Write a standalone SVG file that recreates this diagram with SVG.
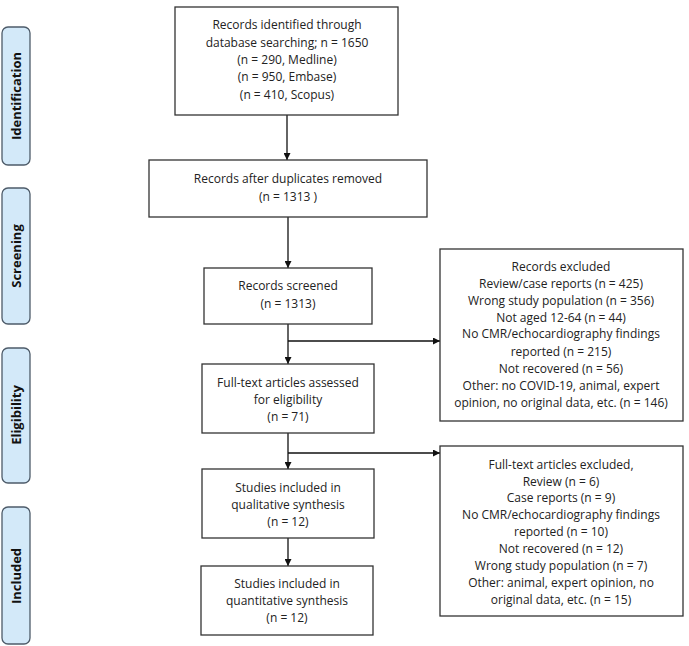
<svg xmlns="http://www.w3.org/2000/svg" width="689" height="646" viewBox="0 0 689 646">
<style>
.box{fill:#fff;stroke:#333;stroke-width:1.3}
.side{fill:#d3e9f9;stroke:#4d5b69;stroke-width:1.3}
.t{font-family:"Open Sans","Liberation Sans",sans-serif;font-size:12px;fill:#222;text-anchor:middle}
.s{font-family:"Open Sans","Liberation Sans",sans-serif;font-size:13px;font-weight:bold;fill:#111;text-anchor:middle}
.c{stroke:#111;stroke-width:1.3;fill:none}
</style>
<defs>
<marker id="ah" viewBox="0 0 10 10" refX="10" refY="5" markerWidth="7" markerHeight="7" orient="auto" markerUnits="userSpaceOnUse">
<path d="M0,0 L10,5 L0,10 z" fill="#111"/>
</marker>
</defs>
<rect width="689" height="646" fill="#fff"/>
<g id="side-identification"><rect class="side" x="2" y="27" width="28" height="138" rx="6"/><text class="s" transform="translate(21,96) rotate(-90)">Identification</text></g>
<g id="side-screening"><rect class="side" x="2" y="188" width="28" height="136" rx="6"/><text class="s" transform="translate(21,256) rotate(-90)">Screening</text></g>
<g id="side-eligibility"><rect class="side" x="2" y="348" width="28" height="135" rx="6"/><text class="s" transform="translate(21,415) rotate(-90)">Eligibility</text></g>
<g id="side-included"><rect class="side" x="2" y="507" width="28" height="137" rx="6"/><text class="s" transform="translate(21,576) rotate(-90)">Included</text></g>

<g id="connectors">
<line class="c" x1="287" y1="115" x2="287" y2="160" marker-end="url(#ah)"/>
<line class="c" x1="288" y1="217" x2="288" y2="268" marker-end="url(#ah)"/>
<line class="c" x1="288" y1="324" x2="288" y2="364" marker-end="url(#ah)"/>
<line class="c" x1="288" y1="341" x2="440" y2="341" marker-end="url(#ah)"/>
<line class="c" x1="288" y1="433" x2="288" y2="469" marker-end="url(#ah)"/>
<line class="c" x1="288" y1="453" x2="440" y2="453" marker-end="url(#ah)"/>
<line class="c" x1="288" y1="538" x2="288" y2="566" marker-end="url(#ah)"/>
</g>

<g id="n1"><rect class="box" x="175" y="7" width="223" height="108"/>
<text class="t" x="287" y="29">Records identified through</text>
<text class="t" x="287" y="47">database searching; n = 1650</text>
<text class="t" x="287" y="64">(n = 290, Medline)</text>
<text class="t" x="287" y="81">(n = 950, Embase)</text>
<text class="t" x="287" y="99">(n = 410, Scopus)</text></g>

<g id="n2"><rect class="box" x="149" y="160" width="278" height="57"/>
<text class="t" x="288" y="183">Records after duplicates removed</text>
<text class="t" x="288" y="201">(n = 1313 )</text></g>

<g id="n3"><rect class="box" x="204" y="268" width="168" height="56"/>
<text class="t" x="288" y="290">Records screened</text>
<text class="t" x="288" y="308">(n = 1313)</text></g>

<g id="n4"><rect class="box" x="202" y="364" width="172" height="69"/>
<text class="t" x="288" y="387">Full-text articles assessed</text>
<text class="t" x="288" y="404">for eligibility</text>
<text class="t" x="288" y="421">(n = 71)</text></g>

<g id="n5"><rect class="box" x="202" y="469" width="172" height="69"/>
<text class="t" x="288" y="492">Studies included in</text>
<text class="t" x="288" y="509">qualitative synthesis</text>
<text class="t" x="288" y="526">(n = 12)</text></g>

<g id="n6"><rect class="box" x="201" y="566" width="172" height="69"/>
<text class="t" x="287" y="588">Studies included in</text>
<text class="t" x="287" y="605">quantitative synthesis</text>
<text class="t" x="287" y="622">(n = 12)</text></g>

<g id="excl1"><rect class="box" x="440" y="249" width="243" height="172"/>
<text class="t" x="561" y="271">Records excluded</text>
<text class="t" x="561" y="288">Review/case reports (n = 425)</text>
<text class="t" x="561" y="305">Wrong study population (n = 356)</text>
<text class="t" x="561" y="322">Not aged 12-64 (n = 44)</text>
<text class="t" x="561" y="338">No CMR/echocardiography findings</text>
<text class="t" x="561" y="356">reported (n = 215)</text>
<text class="t" x="561" y="373">Not recovered (n = 56)</text>
<text class="t" x="561" y="390">Other: no COVID-19, animal, expert</text>
<text class="t" x="561" y="407">opinion, no original data, etc. (n = 146)</text></g>

<g id="excl2"><rect class="box" x="440" y="446" width="243" height="170"/>
<text class="t" x="561" y="469">Full-text articles excluded,</text>
<text class="t" x="561" y="486">Review (n = 6)</text>
<text class="t" x="561" y="502">Case reports (n = 9)</text>
<text class="t" x="561" y="519">No CMR/echocardiography findings</text>
<text class="t" x="561" y="536">reported (n = 10)</text>
<text class="t" x="561" y="553">Not recovered (n = 12)</text>
<text class="t" x="561" y="570">Wrong study population (n = 7)</text>
<text class="t" x="561" y="587">Other: animal, expert opinion, no</text>
<text class="t" x="561" y="604">original data, etc. (n = 15)</text></g>
</svg>
